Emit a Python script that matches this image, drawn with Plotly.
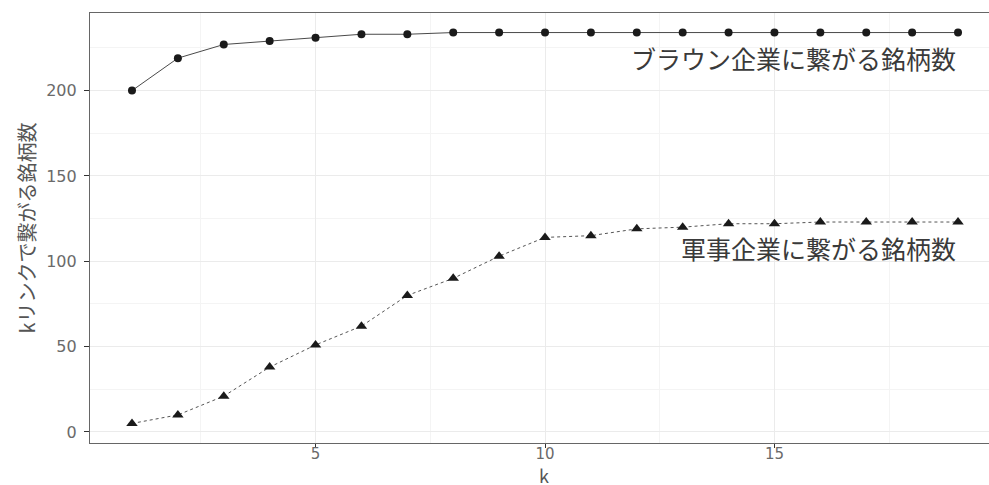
import plotly.graph_objects as go

k = list(range(1, 20))
brown_counts = [200, 219, 227, 229, 231, 233, 233, 234, 234, 234, 234, 234, 234, 234, 234, 234, 234, 234, 234]
military_counts = [5, 10, 21, 38, 51, 62, 80, 90, 103, 114, 115, 119, 120, 122, 122, 123, 123, 123, 123]
brown_label = "ブラウン企業に繋がる銘柄数"
military_label = "軍事企業に繋がる銘柄数"
x_title = "k"
y_title = "kリンクで繋がる銘柄数"
x_ticks = [5, 10, 15]
y_ticks = [0, 50, 100, 150, 200]

FONT = "Noto Sans CJK JP, Noto Sans, sans-serif"
TICKFONT = "DejaVu Sans, sans-serif"

fig = go.Figure()
fig.add_trace(go.Scatter(
    x=k, y=brown_counts, mode="lines+markers",
    line=dict(color="#4a4a4a", width=1),
    marker=dict(symbol="circle", size=8, color="#1a1a1a"),
    showlegend=False,
))
fig.add_trace(go.Scatter(
    x=k, y=military_counts, mode="lines+markers",
    line=dict(color="#555555", width=1, dash="3px,3px"),
    marker=dict(symbol="triangle-up", size=10, color="#1a1a1a"),
    showlegend=False,
))

fig.add_annotation(x=k[-1], y=219, text=brown_label, showarrow=False,
                   xanchor="right", yanchor="middle",
                   font=dict(family=FONT, size=25, color="#3a3a3a"))
fig.add_annotation(x=k[-1], y=108, text=military_label, showarrow=False,
                   xanchor="right", yanchor="middle",
                   font=dict(family=FONT, size=25, color="#3a3a3a"))
# x-axis title placed as paper annotation (ggplot centres it on the full, partly clipped panel)
fig.add_annotation(xref="paper", yref="paper", x=0.505, y=-0.074, text=x_title,
                   showarrow=False, xanchor="center", yanchor="middle",
                   font=dict(family=FONT, size=18, color="#555555"))

fig.update_layout(
    width=989, height=485,
    margin=dict(l=90, r=0, t=13, b=42),
    paper_bgcolor="white", plot_bgcolor="white",
    font=dict(family=FONT),
    xaxis=dict(
        range=[0.085, 19.675],
        automargin=False,
        tickvals=x_ticks, ticktext=[str(v) for v in x_ticks],
        showgrid=True, gridcolor="#ebebeb", gridwidth=1.2,
        minor=dict(tickvals=[2.5, 7.5, 12.5, 17.5], showgrid=True, gridcolor="#f4f4f4", gridwidth=0.8, ticks=""),
        ticks="outside", ticklen=4, tickcolor="#333333", tickwidth=1.2,
        ticklabelstandoff=-7,
        showline=True, linecolor="#666666", linewidth=1.2, mirror=True,
        tickfont=dict(family=TICKFONT, size=15, color="#6a6a6a"),
        zeroline=False,
    ),
    yaxis=dict(
        range=[-6.45, 245.45],
        automargin=False,
        tickvals=y_ticks, ticktext=[str(v) for v in y_ticks],
        showgrid=True, gridcolor="#ebebeb", gridwidth=1.2,
        minor=dict(tickvals=[25, 75, 125, 175, 225], showgrid=True, gridcolor="#f4f4f4", gridwidth=0.8, ticks=""),
        ticks="outside", ticklen=5, tickcolor="#333333", tickwidth=1.2,
        ticklabelstandoff=4,
        showline=True, linecolor="#666666", linewidth=1.2,
        tickfont=dict(family=TICKFONT, size=16, color="#6a6a6a"),
        title=dict(text=y_title, font=dict(family=FONT, size=20, color="#555555"), standoff=5),
        zeroline=False,
    ),
)

# remove the browser's default 8px body margin so the figure fills the window exactly
fig.write_html(
    "out.html",
    config={"displayModeBar": False},
    post_script="document.body.style.margin='0';document.body.style.overflow='hidden';",
)
